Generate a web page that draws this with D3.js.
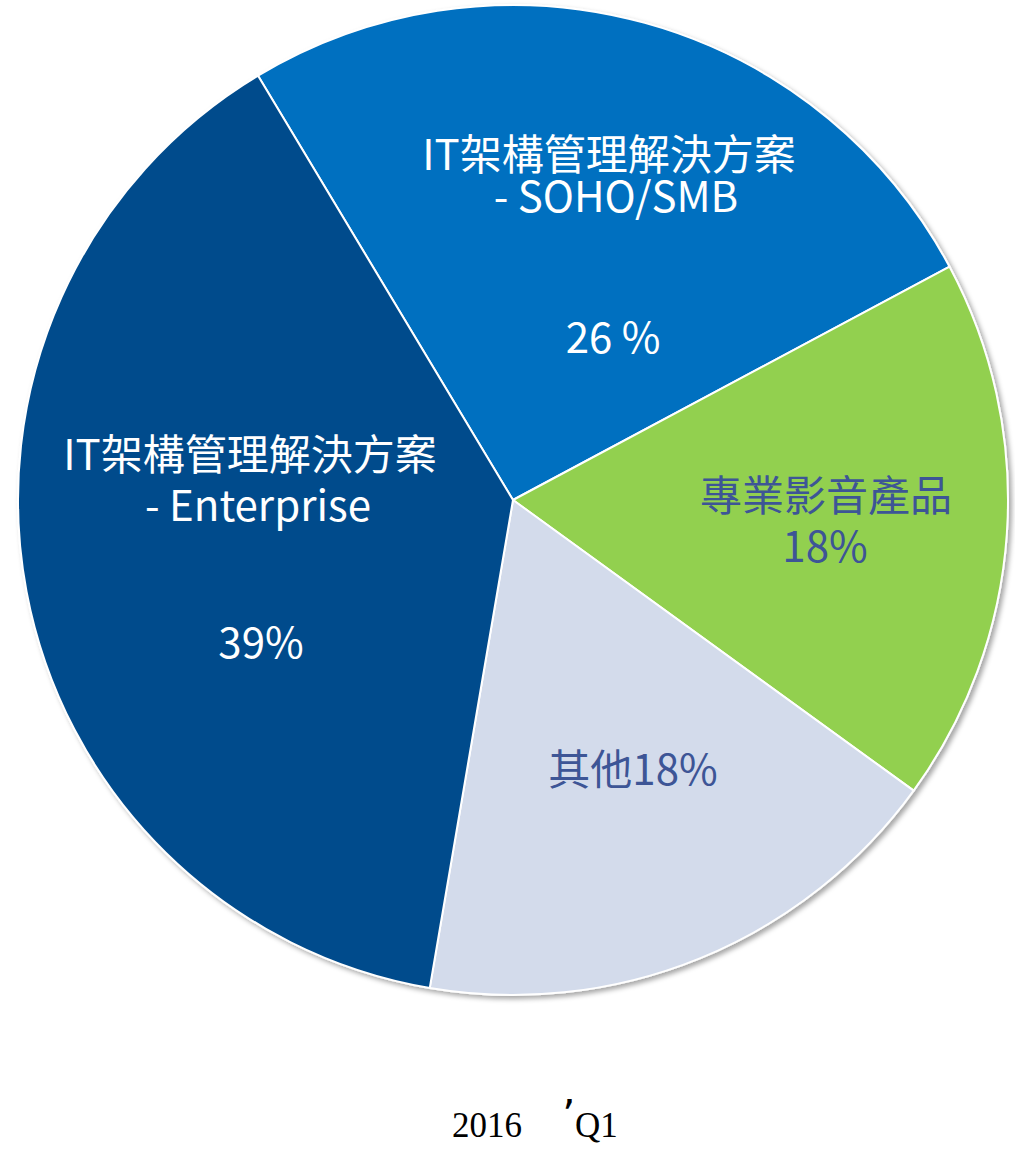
<!DOCTYPE html>
<html>
<head>
<meta charset="utf-8">
<script src="https://cdn.jsdelivr.net/npm/d3@7"></script>
<style>
  html, body { margin: 0; padding: 0; background: #ffffff; }
  svg { display: block; }
</style>
</head>
<body>
<div id="chart"></div>
<script>
// 分類（順時針，從左上方的分界線開始）
const categories = ["IT架構管理解決方案 - SOHO/SMB", "專業影音產品", "其他", "IT架構管理解決方案 - Enterprise"];
// 扇形所佔比例（從圖上量出）
const shares = [25.8, 17.8, 17.7, 38.7];
// 標籤文字（每行一個）
const labelLines = [
  ["IT架構管理解決方案", "- SOHO/SMB", "26 %"],
  ["專業影音產品", "18%"],
  ["其他18%"],
  ["IT架構管理解決方案", "- Enterprise", "39%"]
];
const title = ["2016", "’", "Q1"];

const colors = ["#0070c0", "#92d050", "#d3dbeb", "#034c8c"];
const textColors = ["#ffffff", "#3d5596", "#3d5596", "#ffffff"];

// 標籤位置（相對於圓心），每行 [dx, dy]
const labelOffsets = [
  [[96, -330], [103, -288], [100, -147]],
  [[313, 11], [312, 62]],
  [[120, 285]],
  [[-263, -30], [-255, 21], [-252, 158]]
];

const width = 1015;
const height = 1152;
const cx = 513;
const cy = 500;
const radius = 495;
const fontSize = 42;

const svg = d3.select("#chart")
  .append("svg")
  .attr("width", width)
  .attr("height", height);

// 陰影
const defs = svg.append("defs");
const shadow = defs.append("filter")
  .attr("id", "shadow")
  .attr("x", "-10%").attr("y", "-10%")
  .attr("width", "120%").attr("height", "120%");
shadow.append("feDropShadow")
  .attr("dx", 3).attr("dy", 3)
  .attr("stdDeviation", 2.5)
  .attr("flood-color", "#000")
  .attr("flood-opacity", 0.35);

const group = svg.append("g")
  .attr("transform", `translate(${cx},${cy})`);

const pie = d3.pie()
  .sort(null)
  .value(d => d)
  .startAngle(-31 * Math.PI / 180)
  .endAngle((360 - 31) * Math.PI / 180);

const arc = d3.arc()
  .innerRadius(0)
  .outerRadius(radius);

const arcs = pie(shares);

group.append("g")
  .attr("filter", "url(#shadow)")
  .selectAll("path")
  .data(arcs)
  .join("path")
  .attr("d", arc)
  .attr("fill", (_, i) => colors[i])
  .attr("stroke", "#ffffff")
  .attr("stroke-width", 2)
  .attr("stroke-linejoin", "round");

// 標籤：每個扇形一個 text，每行一個 tspan
const labels = group.append("g")
  .attr("font-family", "'Noto Sans CJK TC', 'Noto Sans', sans-serif")
  .attr("font-size", fontSize)
  .attr("text-anchor", "middle");

labels.selectAll("text")
  .data(labelLines)
  .join("text")
  .attr("fill", (_, i) => textColors[i])
  .each(function(lines, i) {
    d3.select(this)
      .selectAll("tspan")
      .data(lines)
      .join("tspan")
      .attr("x", (_, j) => labelOffsets[i][j][0])
      .attr("y", (_, j) => labelOffsets[i][j][1])
      .text(d => d);
  });

// 標題
const t = svg.append("g")
  .attr("font-family", "'Liberation Serif', 'DejaVu Serif', serif")
  .attr("fill", "#000");
t.append("text")
  .attr("x", 452).attr("y", 1137)
  .attr("font-size", 35)
  .text(title[0]);
t.append("text")
  .attr("x", 562).attr("y", 1130)
  .attr("font-size", 42)
  .attr("font-family", "'DejaVu Sans', sans-serif")
  .text(title[1]);
t.append("text")
  .attr("x", 575).attr("y", 1137)
  .attr("font-size", 35)
  .text(title[2]);
</script>
</body>
</html>
